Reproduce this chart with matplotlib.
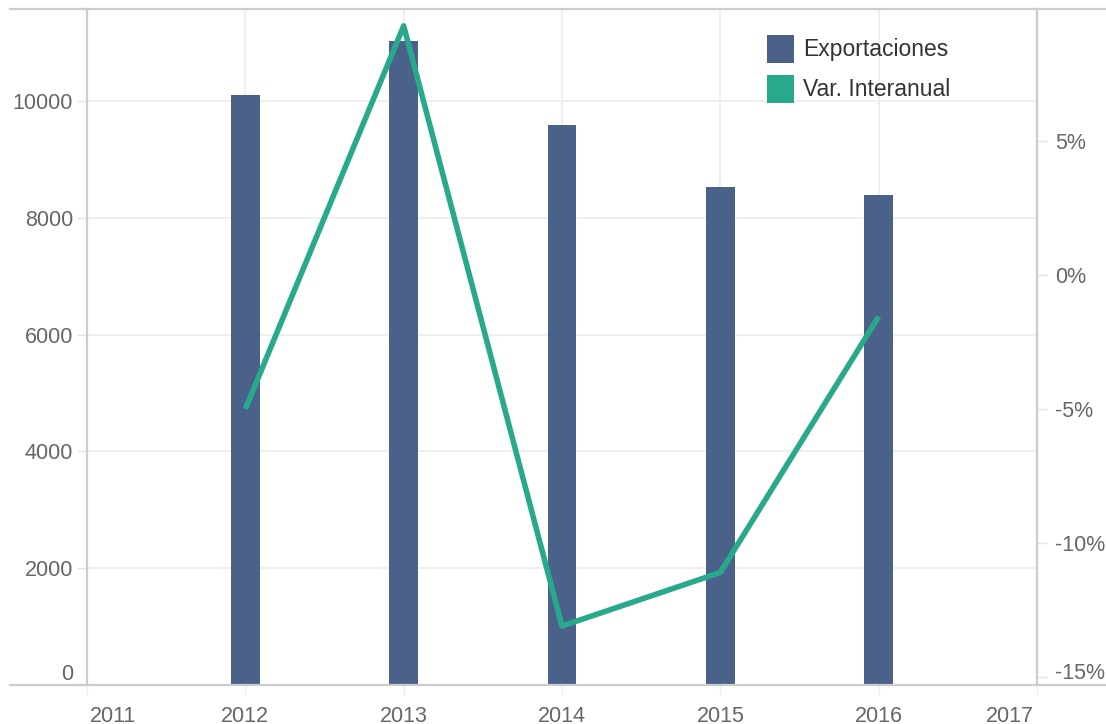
import matplotlib.pyplot as plt
import matplotlib.transforms as mtransforms
from matplotlib.patches import Patch
from matplotlib.lines import Line2D

plt.rcParams['font.family'] = ['Liberation Sans', 'DejaVu Sans']

years = [2012, 2013, 2014, 2015, 2016]
exportaciones = [10100, 11030, 9590, 8530, 8390]
var_interanual = [-5.0, 9.3, -13.1, -11.1, -1.55]

left_ticks = [0, 2000, 4000, 6000, 8000, 10000]
right_ticks = [-15, -10, -5, 0, 5]
year_ticks = [2011, 2012, 2013, 2014, 2015, 2016, 2017]

bar_color = '#4a6189'
line_color = '#29a98b'
axis_color = '#cccccc'
grid_color = '#efefef'
text_color = '#666666'
fs = 15.5
leg_fs = 16.5

fig = plt.figure(figsize=(11.06, 7.24), dpi=100)
ax = fig.add_axes([87 / 1106, 39 / 724, 950 / 1106, 676 / 724])
ax2 = ax.twinx()

ax.bar(years, exportaciones, width=0.183, color=bar_color, zorder=2)
ax2.plot(years, var_interanual, color=line_color, lw=4, solid_capstyle='butt', zorder=3)

ax.set_xlim(2011, 2017)
ax.set_ylim(0, 11575)
ax2.set_ylim(-15.3, 9.93)

ax.set_xticks(year_ticks)
ax.set_xticklabels([str(y) for y in year_ticks])
ax.set_yticks(left_ticks)
ax.set_yticklabels([str(v) for v in left_ticks])
ax2.set_yticks(right_ticks)
ax2.set_yticklabels([f'{v}%' for v in right_ticks])

ax.grid(True, color=grid_color, lw=1.5, zorder=0)
ax.set_axisbelow(True)

for a in (ax, ax2):
    for s in a.spines.values():
        s.set_visible(False)
ax.spines['left'].set_visible(True)
ax.spines['left'].set_color(axis_color)
ax.spines['left'].set_linewidth(1.6)
ax2.spines['right'].set_visible(True)
ax2.spines['right'].set_color(axis_color)
ax2.spines['right'].set_linewidth(1.6)

ax.tick_params(axis='y', length=7, width=1, color='#e3e3e3', labelsize=fs, labelcolor=text_color, pad=3)
ax.tick_params(axis='x', length=7, width=1, color='#eeeeee', labelsize=fs, labelcolor=text_color, pad=8)
ax2.tick_params(axis='y', length=7, width=1, color='#e3e3e3', labelsize=fs, labelcolor=text_color, pad=6)

# nudge the edge labels inwards like the original
labs = ax.get_yticklabels()
labs[0].set_transform(labs[0].get_transform() + mtransforms.ScaledTranslation(0, 13 / 100, fig.dpi_scale_trans))
rlabs = ax2.get_yticklabels()
rlabs[0].set_transform(rlabs[0].get_transform() + mtransforms.ScaledTranslation(0, 6 / 100, fig.dpi_scale_trans))
xlabs = ax.get_xticklabels()
xlabs[0].set_horizontalalignment('left')
xlabs[0].set_transform(xlabs[0].get_transform() + mtransforms.ScaledTranslation(3 / 100, 0, fig.dpi_scale_trans))
xlabs[-1].set_horizontalalignment('right')
xlabs[-1].set_transform(xlabs[-1].get_transform() + mtransforms.ScaledTranslation(-3 / 100, 0, fig.dpi_scale_trans))

# top and bottom border lines spanning the figure
fig.add_artist(Line2D([10 / 1106, 1], [1 - 9 / 724] * 2, color=axis_color, lw=1.6))
fig.add_artist(Line2D([10 / 1106, 1], [39 / 724] * 2, color=axis_color, lw=1.6))

handles = [Patch(facecolor=bar_color, label='Exportaciones'),
           Patch(facecolor=line_color, label='Var. Interanual')]
leg = ax2.legend(handles=handles, loc='upper left', bbox_to_anchor=(680 / 950, 1 - 26 / 676),
                 frameon=False, fontsize=leg_fs, handlelength=1.18, handleheight=1.49,
                 handletextpad=0.4, labelspacing=0.52, borderaxespad=0, borderpad=0)
for t in leg.get_texts():
    t.set_color('#333333')

fig.savefig('out.png', dpi=100)
